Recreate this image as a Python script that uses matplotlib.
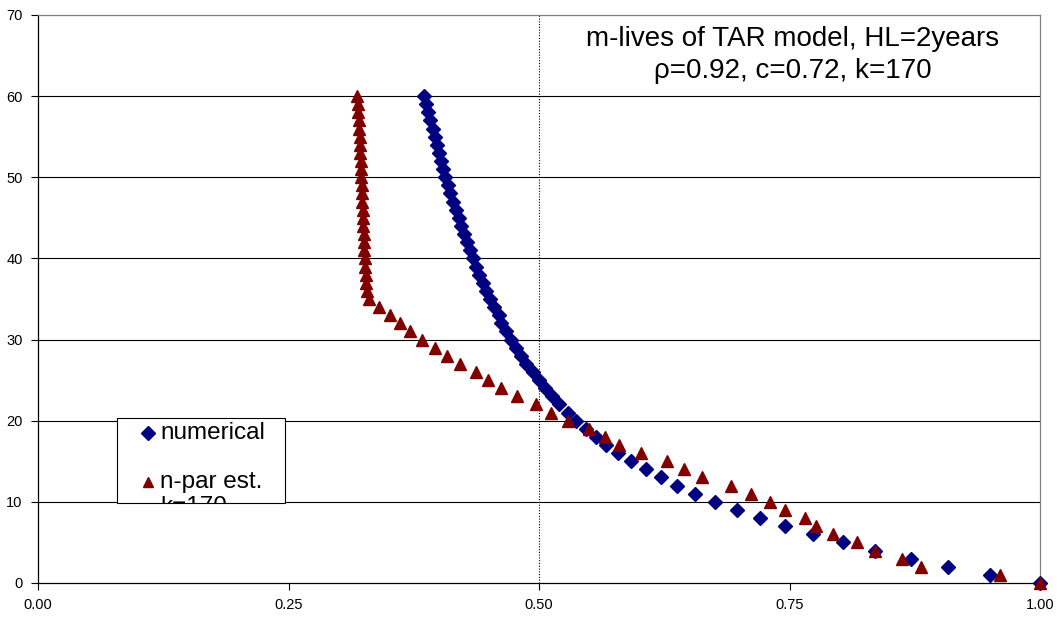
import matplotlib.pyplot as plt
from matplotlib.patches import Rectangle
from matplotlib.transforms import Bbox, TransformedBbox

plt.rcParams['font.family'] = ['Liberation Sans', 'DejaVu Sans']

# m-values (vertical axis) and the corresponding x positions for each series
m_numerical = list(range(0, 61))
x_numerical = [
    1.000, 0.950, 0.908, 0.871, 0.835, 0.803, 0.773, 0.745, 0.720, 0.697,
    0.676, 0.656, 0.638, 0.622, 0.607, 0.592, 0.579, 0.567, 0.557, 0.547,
    0.537, 0.529, 0.520, 0.513, 0.506, 0.500, 0.494, 0.487, 0.482, 0.477,
    0.472, 0.467, 0.462, 0.460, 0.455, 0.451, 0.447, 0.444, 0.440, 0.437,
    0.434, 0.431, 0.428, 0.425, 0.422, 0.420, 0.417, 0.414, 0.411, 0.409,
    0.406, 0.404, 0.402, 0.400, 0.398, 0.396, 0.394, 0.391, 0.389, 0.387,
    0.385,
]

m_npar = list(range(0, 61))
x_npar = [
    1.000, 0.960, 0.881, 0.862, 0.835, 0.817, 0.793, 0.776, 0.765, 0.745,
    0.730, 0.711, 0.692, 0.663, 0.645, 0.628, 0.602, 0.580, 0.566, 0.550,
    0.529, 0.512, 0.497, 0.478, 0.462, 0.449, 0.437, 0.421, 0.408, 0.396,
    0.383, 0.371, 0.361, 0.351, 0.340, 0.330, 0.328, 0.327, 0.327, 0.326,
    0.326, 0.325, 0.325, 0.325, 0.324, 0.324, 0.324, 0.323, 0.323, 0.323,
    0.322, 0.322, 0.322, 0.321, 0.321, 0.321, 0.320, 0.320, 0.319, 0.319,
    0.318,
]

x_ticks = [0.0, 0.25, 0.5, 0.75, 1.0]
y_ticks = [0, 10, 20, 30, 40, 50, 60, 70]

W, H = 1060, 619
fig = plt.figure(figsize=(W / 100, H / 100), dpi=100)
ax = fig.add_axes([0.0358, 0.0582, 0.9455, 0.9176])

for y in y_ticks[1:-1]:
    ax.axhline(y, color='black', linewidth=0.8, zorder=1)
ax.axvline(0.5, color='black', linewidth=0.8, linestyle=(0, (1, 1.5)), zorder=1)

ax.plot(x_numerical, m_numerical, linestyle='none', marker='D',
        markersize=7.6, color='#000080', zorder=3, clip_on=False)
ax.plot(x_npar, m_npar, linestyle='none', marker='^',
        markersize=8.5, color='#800000', zorder=4, clip_on=False)

ax.set_xlim(0, 1)
ax.set_ylim(0, 70)
ax.set_xticks(x_ticks)
ax.set_xticklabels([f'{v:.2f}' for v in x_ticks])
ax.set_yticks(y_ticks)
ax.tick_params(direction='out', length=5, width=0.8, labelsize=10.5, pad=6)

for side in ['top', 'right']:
    ax.spines[side].set_color('#808080')
for side in ['left', 'bottom']:
    ax.spines[side].set_color('black')
for sp in ax.spines.values():
    sp.set_linewidth(0.9)

ax.text(0.753, 0.9296, 'm-lives of TAR model, HL=2years\nρ=0.92, c=0.72, k=170',
        transform=ax.transAxes, ha='center', va='center', fontsize=20,
        linespacing=1.32)

# legend box, drawn by hand so the second label line gets cut by the frame
lx0, ly0, lx1, ly1 = 117, H - 503, 285, H - 418
box = Rectangle((lx0 / W, ly0 / H), (lx1 - lx0) / W, (ly1 - ly0) / H,
                transform=fig.transFigure, facecolor='white',
                edgecolor='black', linewidth=0.8, zorder=5)
fig.patches.append(box)
clip = TransformedBbox(Bbox.from_extents(lx0 / W, ly0 / H, lx1 / W, ly1 / H),
                       fig.transFigure)

fig.lines.append(plt.Line2D([148 / W], [(H - 433) / H], marker='D',
                            markersize=6.8, color='#000080', linestyle='none',
                            transform=fig.transFigure, zorder=6))
fig.lines.append(plt.Line2D([148 / W], [(H - 482) / H], marker='^',
                            markersize=7.8, color='#800000', linestyle='none',
                            transform=fig.transFigure, zorder=6))
fig.text(160 / W, (H - 433) / H, 'numerical', va='center', ha='left',
         fontsize=17.5, zorder=6)
for label, ypx in [('n-par est.', 482), ('k=170', 507)]:
    t = fig.text(160 / W, (H - ypx) / H, label, va='center', ha='left',
                 fontsize=17.5, zorder=6)
    t.set_clip_box(clip)
    t.set_clip_on(True)

fig.savefig('out.png', dpi=100)
